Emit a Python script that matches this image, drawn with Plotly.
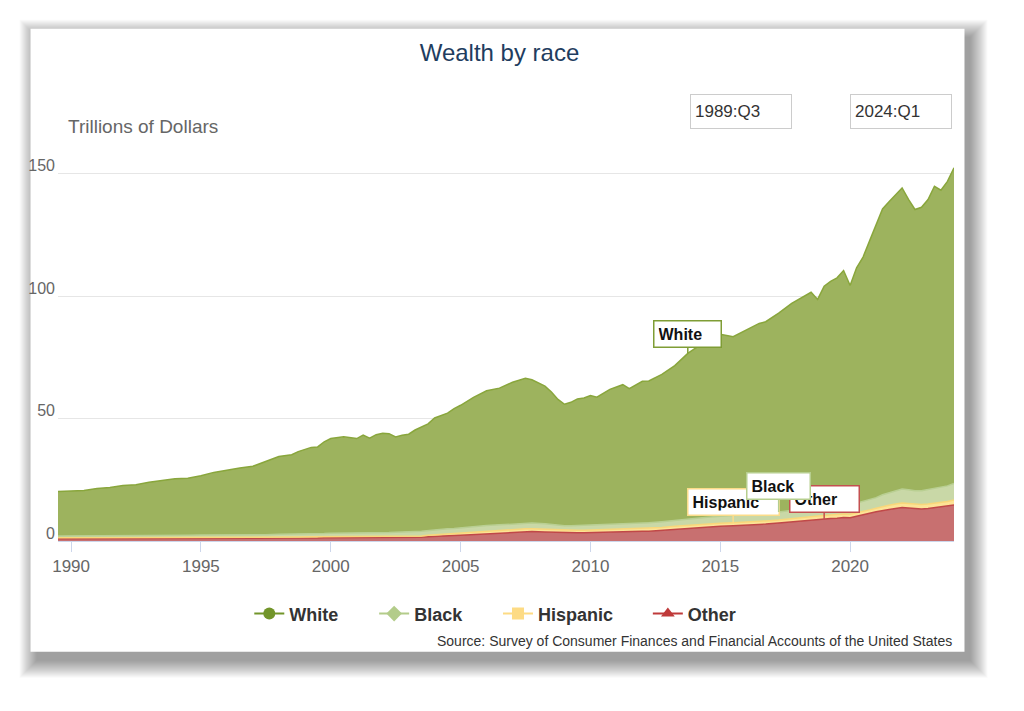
import plotly.graph_objects as go

# quarterly dates (1989:Q3 .. 2024:Q1)
dates = [
    "1989-07-01", "1990-01-01", "1990-07-01", "1991-01-01", "1991-07-01", "1992-01-01", "1992-07-01",
    "1993-01-01", "1993-07-01", "1994-01-01", "1994-07-01", "1995-01-01", "1995-07-01", "1996-01-01",
    "1996-07-01", "1997-01-01", "1997-07-01", "1998-01-01", "1998-07-01", "1998-10-01", "1999-04-01",
    "1999-07-01", "1999-10-01", "2000-01-01", "2000-07-01", "2001-01-01", "2001-04-01", "2001-07-01",
    "2001-10-01", "2002-01-01", "2002-04-01", "2002-07-01", "2002-10-01", "2003-01-01", "2003-04-01",
    "2003-07-01", "2003-10-01", "2004-01-01", "2004-07-01", "2004-10-01", "2005-01-01", "2005-07-01",
    "2006-01-01", "2006-07-01", "2007-01-01", "2007-07-01", "2007-10-01", "2008-04-01", "2008-07-01",
    "2008-10-01", "2009-01-01", "2009-04-01", "2009-07-01", "2009-10-01", "2010-01-01", "2010-04-01",
    "2010-10-01", "2011-04-01", "2011-07-01", "2012-01-01", "2012-04-01", "2012-10-01", "2013-04-01",
    "2013-10-01", "2014-01-01", "2014-07-01", "2015-01-01", "2015-07-01", "2016-01-01", "2016-07-01",
    "2016-10-01", "2017-04-01", "2017-10-01", "2018-01-01", "2018-04-01", "2018-07-01", "2018-10-01",
    "2019-01-01", "2019-04-01", "2019-07-01", "2019-10-01", "2020-01-01", "2020-04-01", "2020-07-01",
    "2020-10-01", "2021-01-01", "2021-04-01", "2021-07-01", "2021-10-01", "2022-01-01", "2022-04-01",
    "2022-07-01", "2022-10-01", "2023-01-01", "2023-04-01", "2023-07-01", "2023-10-01", "2024-01-01",
]

# trillions of dollars
white = [
    18.2, 18.4, 18.6, 19.3, 19.7, 20.6, 20.9, 21.8, 22.4, 23.1, 23.3, 24.2, 25.6, 26.5, 27.2, 27.9,
    30.0, 31.7, 32.4, 33.7, 35.2, 35.4, 37.4, 38.6, 39.3, 38.5, 39.9, 38.7, 39.9, 40.5, 40.3, 38.9,
    39.6, 39.9, 41.4, 42.6, 43.5, 45.6, 47.2, 48.9, 50.0, 52.8, 55.0, 55.8, 57.8, 59.1, 58.5, 56.2,
    54.1, 51.4, 49.6, 50.4, 51.7, 52.1, 52.9, 52.2, 55.1, 56.7, 55.1, 57.9, 57.9, 60.1, 63.1, 67.6,
    69.1, 71.8, 74.3, 73.0, 75.4, 77.8, 78.2, 81.2, 84.5, 85.6, 87.0, 88.0, 85.0, 90.0, 91.7, 92.9,
    95.5, 89.6, 96.1, 99.8, 105.7, 111.3, 116.6, 118.8, 121.0, 122.9, 118.5, 114.8, 115.7, 118.4,
    123.3, 121.3, 124.3, 128.8,
]
black = [
    0.7, 0.7, 0.7, 0.8, 0.8, 0.8, 0.8, 0.9, 0.9, 0.9, 0.9, 1.0, 1.0, 1.0, 1.1, 1.1,
    1.1, 1.2, 1.2, 1.2, 1.3, 1.3, 1.3, 1.4, 1.4, 1.5, 1.5, 1.5, 1.6, 1.6, 1.6, 1.7,
    1.7, 1.8, 1.9, 2.0, 2.0, 2.1, 2.2, 2.2, 2.3, 2.3, 2.3, 2.3, 2.3, 2.3, 2.3, 2.2,
    2.1, 2.0, 1.9, 1.9, 1.9, 1.9, 2.0, 2.0, 2.0, 2.1, 2.1, 2.2, 2.3, 2.4, 2.5, 2.6,
    2.6, 2.7, 2.9, 2.9, 3.0, 3.0, 3.1, 3.2, 3.3, 3.3, 3.4, 3.5, 3.4, 3.6, 3.7, 3.8,
    3.9, 3.8, 4.0, 4.1, 4.1, 4.3, 4.8, 5.1, 5.4, 5.7, 5.6, 5.5, 5.6, 5.9,
    6.1, 6.2, 6.4, 6.8,
]
hispanic = [
    0.4, 0.4, 0.4, 0.4, 0.4, 0.4, 0.4, 0.4, 0.4, 0.4, 0.4, 0.4, 0.4, 0.4, 0.4, 0.4,
    0.4, 0.4, 0.4, 0.4, 0.5, 0.5, 0.5, 0.5, 0.5, 0.5, 0.5, 0.5, 0.5, 0.5, 0.5, 0.5,
    0.5, 0.5, 0.5, 0.5, 0.6, 0.6, 0.7, 0.7, 0.8, 0.9, 1.0, 1.0, 1.1, 1.1, 1.1, 1.1,
    1.0, 1.0, 1.0, 1.0, 1.0, 1.0, 1.0, 1.0, 1.1, 1.1, 1.1, 1.1, 1.1, 1.1, 1.1, 1.1,
    1.2, 1.2, 1.2, 1.3, 1.3, 1.3, 1.3, 1.3, 1.4, 1.4, 1.4, 1.4, 1.4, 1.4, 1.4, 1.4,
    1.4, 1.4, 1.4, 1.4, 1.4, 1.5, 1.6, 1.7, 1.8, 1.8, 1.8, 1.8, 1.8, 1.8,
    1.8, 1.9, 1.9, 2.0,
]
other = [
    0.9, 0.9, 0.9, 0.9, 0.9, 0.9, 0.9, 0.9, 1.0, 1.0, 1.0, 1.0, 1.0, 1.1, 1.1, 1.1,
    1.1, 1.2, 1.2, 1.2, 1.2, 1.2, 1.3, 1.3, 1.3, 1.3, 1.3, 1.3, 1.4, 1.4, 1.4, 1.4,
    1.4, 1.4, 1.5, 1.5, 1.7, 1.9, 2.1, 2.2, 2.3, 2.6, 3.0, 3.3, 3.6, 3.9, 3.9, 3.7,
    3.6, 3.4, 3.3, 3.3, 3.4, 3.4, 3.5, 3.5, 3.7, 3.9, 3.9, 4.0, 4.0, 4.4, 4.9, 5.3,
    5.5, 5.8, 6.0, 6.2, 6.4, 6.7, 6.9, 7.3, 7.8, 8.2, 8.4, 8.6, 8.8, 9.0, 9.2, 9.3,
    9.6, 9.5, 10.0, 10.6, 11.3, 11.9, 12.5, 12.9, 13.3, 13.7, 13.5, 13.2, 13.1, 13.3,
    13.6, 13.8, 14.2, 14.7,
]

year_ticks = ["1990-01-01", "1995-01-01", "2000-01-01", "2005-01-01", "2010-01-01", "2015-01-01", "2020-01-01"]
year_labels = ["1990", "1995", "2000", "2005", "2010", "2015", "2020"]
y_ticks = [0, 50, 100, 150]

FONT = "Liberation Sans, Arial, sans-serif"

# plot area in pixels (1024 x 711 page)
L, R, T, B = 57.5, 954.5, 148.5, 541.0


def px(X):
    return (X - L) / (R - L)


def py(Y):
    return (B - Y) / (B - T)


fig = go.Figure()

# stacked areas, bottom first
areas = [
    ("Other", other, "#c87070", "#c04848"),
    ("Hispanic", hispanic, "#fde396", "#f9d77a"),
    ("Black", black, "#c9d8a7", "#b9cf92"),
    ("White", white, "#9db35e", "#89a63c"),
]
for name, vals, fillc, linec in areas:
    fig.add_trace(go.Scatter(
        x=dates, y=vals, name=name, mode="lines", stackgroup="one",
        fillcolor=fillc, line=dict(color=linec, width=1.5),
        showlegend=False, hoverinfo="x+y+name",
    ))

# legend entries with highcharts-like markers, one small legend each
legend_items = [
    ("White", "#72952a", "circle", 249),
    ("Black", "#b3cc8a", "diamond", 374),
    ("Hispanic", "#fddb84", "square", 498),
    ("Other", "#bf3a3a", "triangle-up", 648),
]
legend_layout = {}
for k, (name, col, sym, lx) in enumerate(legend_items):
    key = "legend" if k == 0 else "legend%d" % (k + 1)
    fig.add_trace(go.Scatter(
        x=[None], y=[None], name=name, mode="lines+markers", legend=key,
        line=dict(color=col, width=2), marker=dict(color=col, size=12, symbol=sym),
    ))
    legend_layout[key] = dict(
        x=px(lx), y=py(614), xanchor="left", yanchor="middle", orientation="h",
        font=dict(family=FONT, size=18, color="#333333", weight="bold"),
        bgcolor="rgba(0,0,0,0)", itemwidth=30,
    )


def stack_top(i, n):
    cols = [other, hispanic, black, white][:n]
    return sum(c[i] for c in cols)


# data labels (callouts)
labels = [
    ("Hispanic", dates.index("2015-07-01"), 2, "#fbdc8a", 82, -21),
    ("Other", dates.index("2019-01-01"), 1, "#c45050", 60, -20),
    ("Black", dates.index("2017-04-01"), 3, "#b6ce8e", 54, -26),
    ("White", dates.index("2013-10-01"), 4, "#7f9d35", 58, -19),
]
for text, i, n, col, w, ay in labels:
    fig.add_annotation(
        x=dates[i], y=stack_top(i, n), xref="x", yref="y", text="<b>%s</b>" % text,
        showarrow=True, arrowhead=0, arrowwidth=1.5, arrowcolor=col, ax=0, ay=ay, standoff=0,
        bgcolor="white", bordercolor=col, borderwidth=1.5, borderpad=4, width=w, align="left",
        font=dict(family=FONT, size=16, color="#111111"),
    )

# range boxes
for txt, cx in [("1989:Q3", 741), ("2024:Q1", 901)]:
    fig.add_annotation(
        x=px(cx), y=py(110.5), xref="paper", yref="paper", text=txt, showarrow=False,
        xanchor="center", yanchor="middle",
        width=92, height=25, align="left", bgcolor="white", bordercolor="#cccccc",
        borderwidth=1, borderpad=4, font=dict(family=FONT, size=17, color="#333333"),
    )

fig.add_annotation(
    x=px(66), y=py(126), xref="paper", yref="paper", text="Trillions of Dollars",
    showarrow=False, xanchor="left", yanchor="middle",
    font=dict(family=FONT, size=19, color="#666666"),
)
fig.add_annotation(
    x=px(955), y=py(641), xref="paper", yref="paper",
    text="Source: Survey of Consumer Finances and Financial Accounts of the United States",
    showarrow=False, xanchor="right", yanchor="middle",
    font=dict(family=FONT, size=14, color="#333333"),
)

# card with soft drop shadow
shapes = []
for k in range(18):
    shapes.append(dict(
        type="rect", xref="paper", yref="paper", layer="below", line=dict(width=0),
        x0=px(36 - k), x1=px(971 + k), y0=py(661 + k), y1=py(36 - k),
        fillcolor="rgba(0,0,0,0.025)",
    ))
shapes.append(dict(
    type="rect", xref="paper", yref="paper", layer="below", line=dict(width=0),
    x0=px(30), x1=px(965), y0=py(652), y1=py(28), fillcolor="white",
))

fig.update_layout(
    width=1024, height=711,
    margin=dict(l=L, r=1024 - R, t=T, b=711 - B, autoexpand=False),
    paper_bgcolor="white", plot_bgcolor="rgba(0,0,0,0)",
    font=dict(family=FONT, color="#666666"),
    title=dict(text="Wealth by race", xref="container", x=499.5 / 1024, y=1 - 53 / 711,
               xanchor="center", yanchor="middle",
               font=dict(family=FONT, size=24, color="#1f3d60")),
    shapes=shapes,
    showlegend=True,
    xaxis=dict(
        type="date", range=["1989-07-01", "2024-01-01"],
        tickvals=year_ticks, ticktext=year_labels,
        showgrid=False, zeroline=False,
        showline=True, linecolor="#ccd6eb", linewidth=1,
        ticks="outside", ticklen=10, tickcolor="#ccd6eb", tickwidth=1,
        tickfont=dict(family=FONT, size=17, color="#666666"),
    ),
    yaxis=dict(
        range=[0, 160], tickvals=y_ticks, showgrid=True, gridcolor="#e6e6e6", gridwidth=1,
        zeroline=False, showline=False, ticks="", ticklabelshift=-8, ticklabelstandoff=2,
        tickfont=dict(family=FONT, size=16, color="#666666"),
    ),
    hovermode="x unified",
    **legend_layout,
)

fig.write_html("out.html", config={"displayModeBar": False},
               post_script="document.body.style.margin='0';")
